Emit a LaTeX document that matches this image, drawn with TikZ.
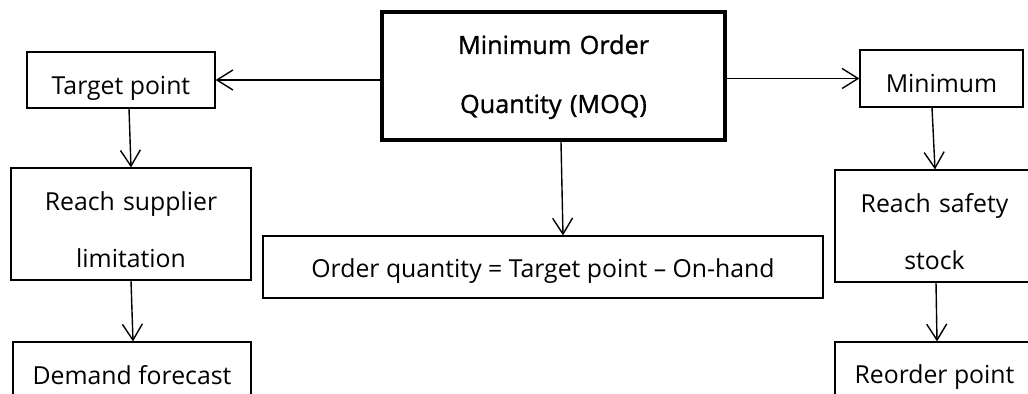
\documentclass[tikz,border=0pt]{standalone}
\usepackage{fontspec}
\setmainfont{Open Sans}
\newfontfamily\moqfont[FakeBold=1.2]{Open Sans}
\usetikzlibrary{arrows.meta}
\tikzset{
  box/.style={draw, line width=0.6pt, rectangle, inner sep=0pt},
  mainbox/.style={box, line width=2pt},
  txt/.style={anchor=base, inner sep=0pt, align=center,
    font=\fontsize{12.4}{28.5}\selectfont},
  mtxt/.style={txt, font=\moqfont\fontsize{12.6}{29.5}\selectfont},
  conn/.style={line width=0.7pt, -{Straight Barb[length=8pt,width=10pt]}}
}
\begin{document}
\begin{tikzpicture}[x=0.5pt,y=-0.5pt]
\useasboundingbox (0,0) rectangle (1028,394);
% boxes
\node[mainbox, minimum width=171.5pt, minimum height=64pt] (moq) at (553.5,76) {};
\node[box, minimum width=94pt, minimum height=28pt] (tp) at (121,80) {};
\node[box, minimum width=120pt, minimum height=56pt] (rs) at (131,224) {};
\node[box, minimum width=119pt, minimum height=39pt] (df) at (132,381) {};
\node[box, minimum width=280pt, minimum height=31pt] (oq) at (543,267) {};
\node[box, minimum width=81.5pt, minimum height=28.5pt] (mn) at (941.5,78.5) {};
\node[box, minimum width=102.5pt, minimum height=56pt] (ss) at (937.5,226) {};
\node[box, minimum width=102.5pt, minimum height=39pt] (rp) at (937.5,381) {};
% texts
\node[mtxt, text width=160pt] (moqt) at ([yshift=-22pt]moq.north) {Minimum Order\\Quantity (MOQ)};
\node[txt] (tpt) at ([yshift=-21.5pt]tp.north) {Target point};
\node[txt, text width=110pt] (rst) at ([yshift=-21.5pt]rs.north) {Reach supplier\\limitation};
\node[txt] (dft) at ([yshift=-21.5pt]df.north) {Demand forecast};
\node[txt] (oqt) at ([yshift=-21pt]oq.north) {Order quantity = Target point -- On-hand};
\node[txt] (mnt) at ([yshift=-21.5pt]mn.north) {Minimum};
\node[txt, text width=90pt] (sst) at ([yshift=-21.5pt,xshift=-1.5pt]ss.north) {Reach safety\\stock};
\node[txt] (rpt) at ([yshift=-21pt,xshift=-1.5pt]rp.north) {Reorder point};
% connectors
\draw[conn] (tp.east -| moq.west) -- (tp.east);
\draw[conn] (mn.west -| moq.east) -- (mn.west);
\draw[conn] ([xshift=4pt]tp.south) -- (rs.north);
\draw[conn] (rs.south) -- ([xshift=0.5pt]df.north);
\draw[conn] ([xshift=3.75pt]moq.south) -- ([xshift=10pt]oq.north);
\draw[conn] ([xshift=-4.75pt]mn.south) -- ([xshift=-1.25pt]ss.north);
\draw[conn] ([xshift=-0.75pt]ss.south) -- ([xshift=-0.25pt]rp.north);
\end{tikzpicture}
\end{document}
